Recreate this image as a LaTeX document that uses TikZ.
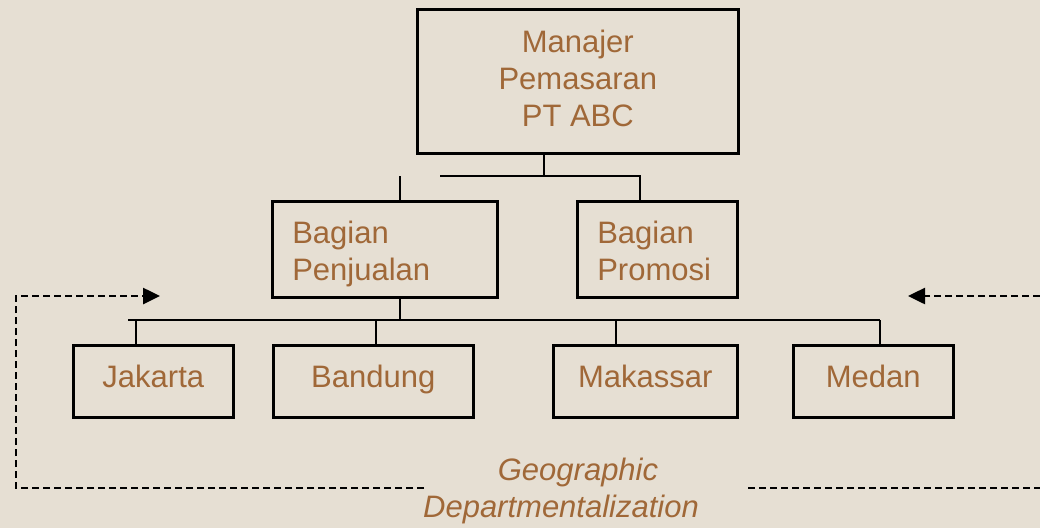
\documentclass[tikz,border=0pt]{standalone}
\usepackage{fontspec}
\setmainfont{Liberation Sans}
\usetikzlibrary{arrows.meta}
\definecolor{paper}{RGB}{230,223,211}
\definecolor{label}{RGB}{160,104,56}
\begin{document}
\begin{tikzpicture}[x=1pt,y=-1pt,
  unit/.style={draw=black, line width=2.6pt, font=\fontsize{31}{37}\selectfont,
    text=label, inner sep=0pt, anchor=north west},
  city/.style={unit, minimum height=72pt, align=center, text height=23pt, text depth=11pt},
  dept/.style={unit, minimum height=96pt, align=left, text height=22pt, text depth=34pt},
  link/.style={line width=2.6pt},
  guide/.style={line width=2.6pt, dash pattern=on 7pt off 4pt},
  caption/.style={font=\fontsize{31}{37}\selectfont\itshape, text=label, inner sep=0pt},
  tip/.style={-{Triangle[length=17pt,width=16pt]}}
  ]
% page
\fill[paper] (0,0) rectangle (1040,528);
\useasboundingbox (0,0) rectangle (1040,528);

% boxes
\node[unit, minimum width=321pt, minimum height=144pt, align=center,
      text height=98pt, text depth=8pt] (mgr) at (416,8)
  {Manajer\\Pemasaran\\PT ABC};
\node[dept, minimum width=225pt, text width=185pt] (sales) at (271,200)
  {Bagian\\Penjualan};
\node[dept, minimum width=160pt, text width=120pt] (promo) at (576,200)
  {Bagian\\Promosi};
\node[city, minimum width=160pt] (jkt) at (72,344) {Jakarta};
\node[city, minimum width=200pt] (bdg) at (272,344) {Bandung};
\node[city, minimum width=184pt] (mks) at (552,344) {Makassar};
\node[city, minimum width=160pt] (mdn) at (792,344) {Medan};

% upper connectors
\coordinate (hubA) at (544,176);
\coordinate (busL) at (440,176);
\coordinate (busR) at (640,176);
\coordinate (tickS) at (400,176);
\draw[link] (mgr.south -| hubA) -- (hubA);
\draw[link] (busL) -- (busR) -- (busR |- promo.north);
\draw[link] (tickS) -- (tickS |- sales.north);

% lower connectors
\coordinate (hubB) at (400,320);
\coordinate (busLL) at (128,320);
\coordinate (busRR) at (880,320);
\coordinate (dropJ) at (136,320);
\coordinate (dropB) at (376,320);
\coordinate (dropM) at (616,320);
\draw[link] (sales.south -| hubB) -- (hubB);
\draw[link] (busLL) -- (busRR);
\draw[link] (dropJ) -- (dropJ |- jkt.north);
\draw[link] (dropB) -- (dropB |- bdg.north);
\draw[link] (dropM) -- (dropM |- mks.north);
\draw[link] (busRR) -- (busRR |- mdn.north);

% caption
\node[caption] (geoA) at (578,472) {Geographic};
\node[caption] (geoB) at (561,509) {Departmentalization};

% dashed guides
\coordinate (gapL) at (424,488);
\coordinate (cornerBL) at (16,488);
\coordinate (cornerTL) at (16,296);
\coordinate (tipL) at (160,296);
\coordinate (edgeR) at (1040,296);
\coordinate (tipR) at (908,296);
\coordinate (gapR) at (748,488);
\coordinate (edgeBR) at (1040,488);
\draw[guide, tip] (gapL) -- (cornerBL) -- (cornerTL) -- (tipL);
\draw[guide, tip] (edgeR) -- (tipR);
\draw[guide] (gapR) -- (edgeBR);
\end{tikzpicture}
\end{document}
